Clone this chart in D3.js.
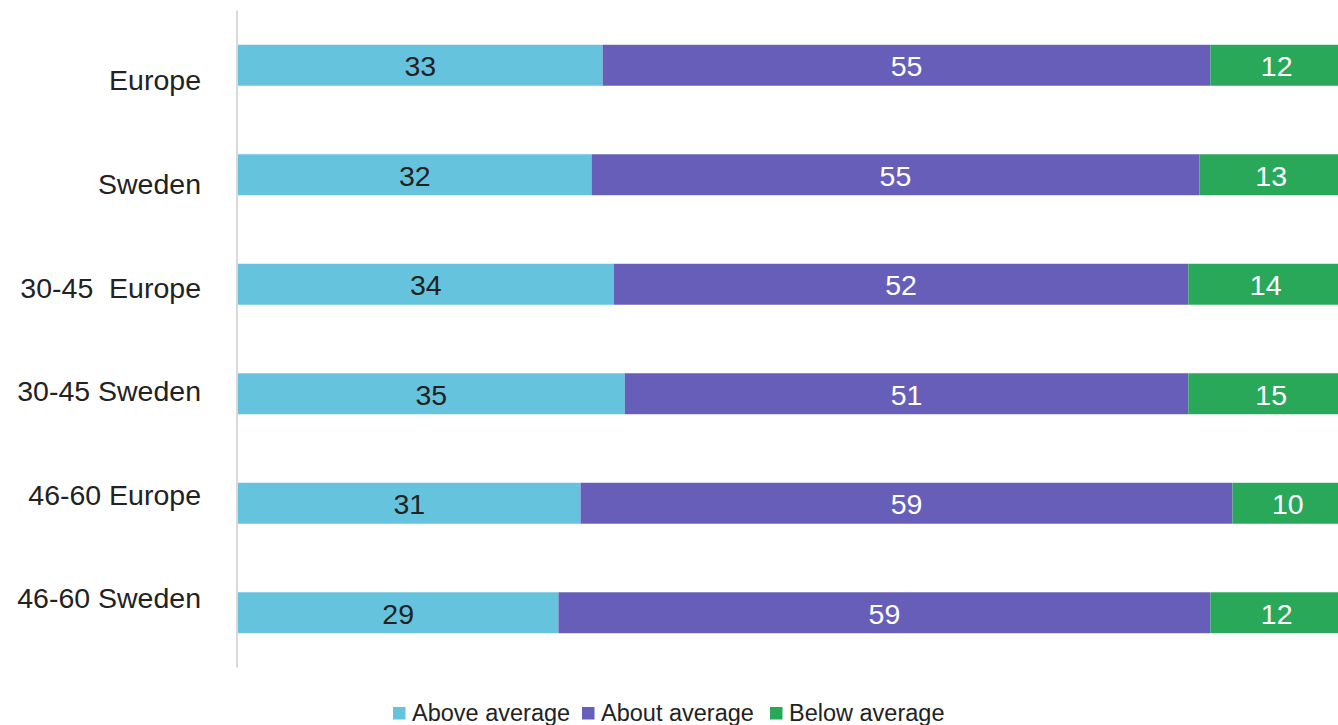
<!DOCTYPE html>
<html>
<head>
<meta charset="utf-8">
<script src="https://cdn.jsdelivr.net/npm/d3@7"></script>
<style>
  html, body { margin: 0; padding: 0; background: #fff; }
  svg { display: block; font-family: "Liberation Sans", Arial, sans-serif; }
</style>
</head>
<body>
<svg id="chart" width="1338" height="725"></svg>
<script>
// Survey groups and the share (%) answering in each band
const categories = ["Europe", "Sweden", "30-45  Europe", "30-45 Sweden", "46-60 Europe", "46-60 Sweden"];
const seriesNames = ["Above average", "About average", "Below average"];
const aboveAverage = [33, 32, 34, 35, 31, 29];
const aboutAverage = [55, 55, 52, 51, 59, 59];
const belowAverage = [12, 13, 14, 15, 10, 12];
const seriesColors = ["#66c3dd", "#665eb8", "#2aa85a"];
const labelColors = ["#222222", "#ffffff", "#ffffff"];

const rows = categories.map((c, i) => ({
  category: c,
  "Above average": aboveAverage[i],
  "About average": aboutAverage[i],
  "Below average": belowAverage[i]
}));

const svg = d3.select("#chart");

const x = d3.scaleLinear().domain([0, 100]).range([238, 1343]);
const y = d3.scaleBand()
  .domain(categories)
  .range([10.5, 667.5])
  .paddingInner(0.626)
  .paddingOuter(0.313);
// Category text sits on its own slightly tighter spacing
const yLabel = d3.scalePoint().domain(categories).range([80, 598]);

const stack = d3.stack().keys(seriesNames);
const layers = stack(rows);

const g = svg.append("g");
layers.forEach((layer, li) => {
  const lg = g.append("g").attr("fill", seriesColors[li]);
  lg.selectAll("rect")
    .data(layer)
    .join("rect")
    .attr("x", d => x(d[0]))
    .attr("width", d => x(d[1]) - x(d[0]))
    .attr("y", d => y(d.data.category))
    .attr("height", y.bandwidth());
  g.append("g")
    .selectAll("text")
    .data(layer)
    .join("text")
    .attr("x", d => (x(d[0]) + x(d[1])) / 2)
    .attr("y", d => y(d.data.category) + y.bandwidth() / 2 + 1)
    .attr("text-anchor", "middle")
    .attr("dominant-baseline", "central")
    .attr("font-size", "28.5px")
    .attr("fill", labelColors[li])
    .text(d => d[1] - d[0]);
});

// Vertical axis line
svg.append("line")
  .attr("x1", 237).attr("x2", 237)
  .attr("y1", 10.5).attr("y2", 667.5)
  .attr("stroke", "#cccccc")
  .attr("stroke-width", 1.5);

// Category labels
const yAxis = d3.axisLeft(yLabel).tickSize(0).tickPadding(0);
const ax = svg.append("g").attr("transform", "translate(201,0)").call(yAxis);
ax.select(".domain").remove();
ax.selectAll("text")
  .attr("font-size", "28.5px")
  .attr("fill", "#222222")
  .attr("font-family", "'Liberation Sans', Arial, sans-serif")
  .attr("dy", "0.35em")
  .style("white-space", "pre")
  .attr("xml:space", "preserve");

// Legend
const legendX = [393, 582, 770];
const legend = svg.append("g");
seriesNames.forEach((name, i) => {
  legend.append("rect")
    .attr("x", legendX[i]).attr("y", 707)
    .attr("width", 12.5).attr("height", 12.5)
    .attr("fill", seriesColors[i]);
  legend.append("text")
    .attr("x", legendX[i] + 19).attr("y", 721)
    .attr("font-size", "23.5px")
    .attr("fill", "#222222")
    .text(name);
});
</script>
</body>
</html>
